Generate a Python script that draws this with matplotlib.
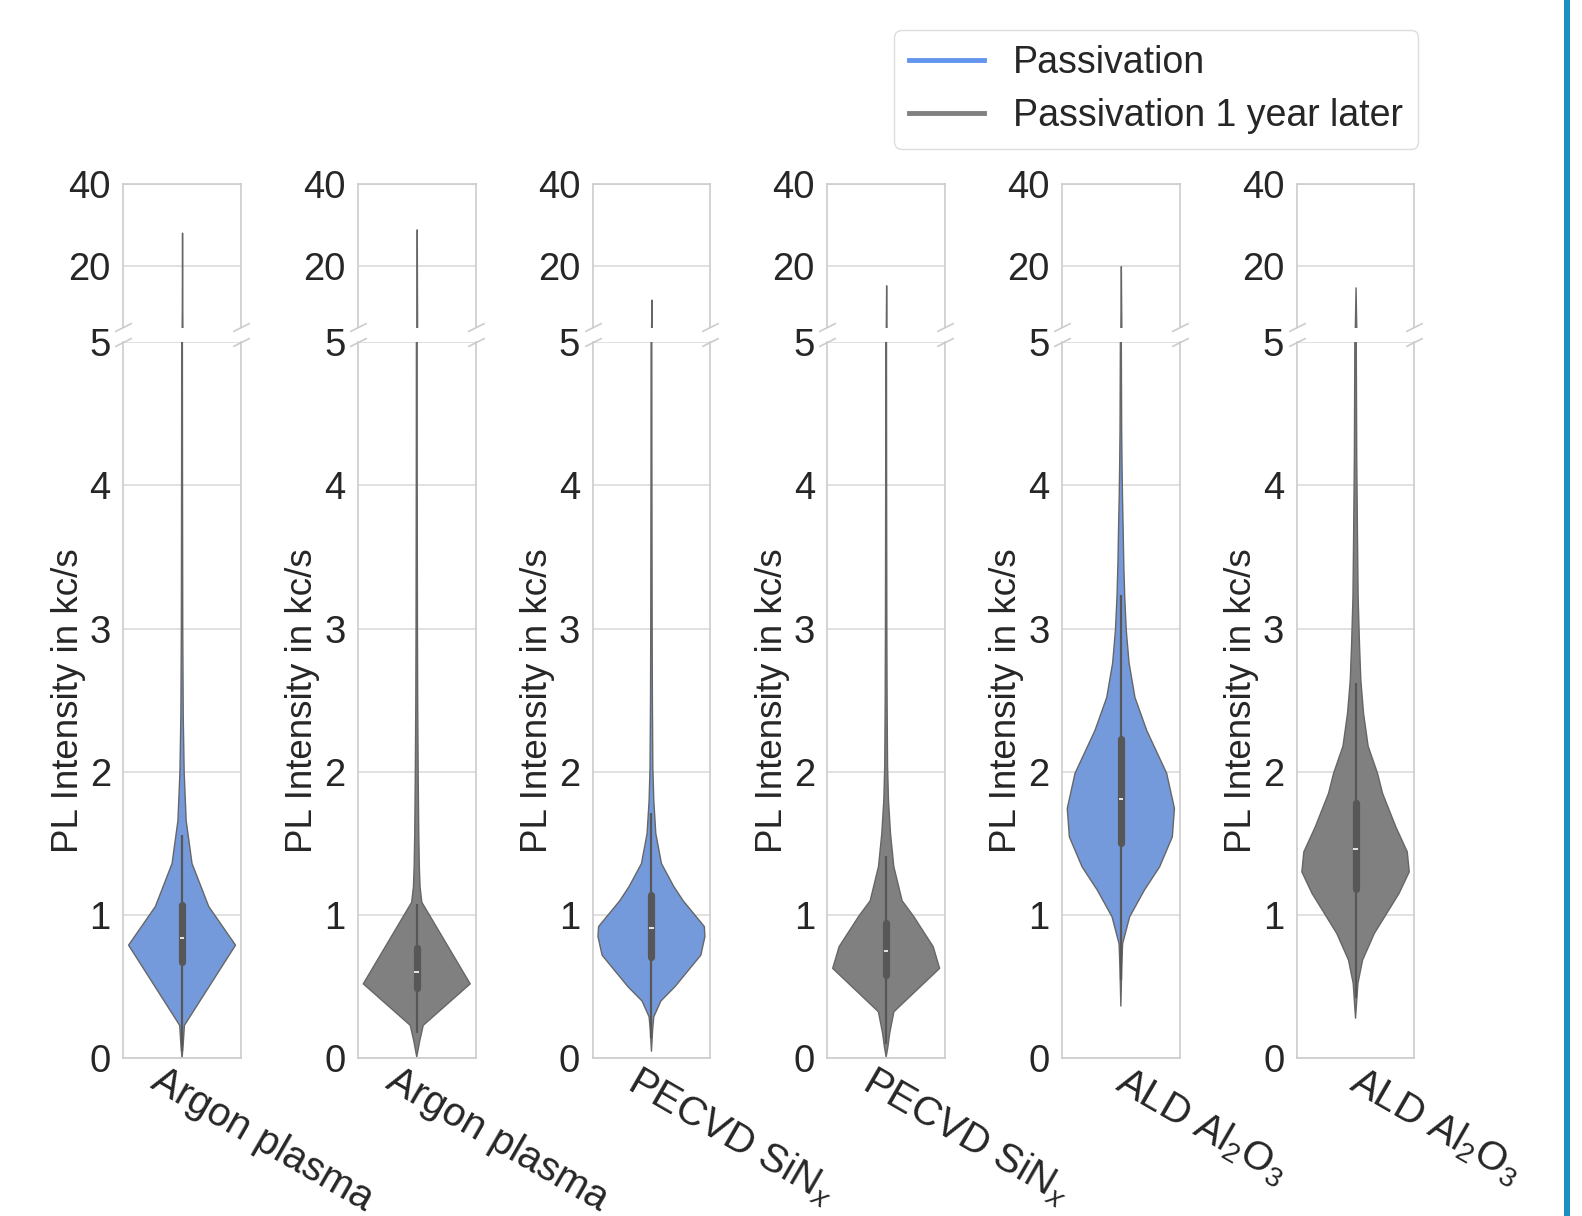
import matplotlib
matplotlib.use("Agg")
import numpy as np
import matplotlib.pyplot as plt
from matplotlib.lines import Line2D
from matplotlib.patches import Rectangle
from matplotlib.transforms import ScaledTranslation

plt.rcParams.update({
    "font.family": ["Liberation Sans", "DejaVu Sans"],
    "mathtext.fontset": "custom",
    "mathtext.rm": "Liberation Sans",
    "mathtext.it": "Liberation Sans:italic",
    "mathtext.bf": "Liberation Sans:bold",
    "text.color": "#262626",
    "axes.labelcolor": "#262626",
    "xtick.color": "#262626",
    "ytick.color": "#262626",
})

# ---- data -------------------------------------------------------------
categories = ["Argon plasma", "Argon plasma",
              "PECVD SiN$_x$", "PECVD SiN$_x$",
              "ALD Al$_2$O$_3$", "ALD Al$_2$O$_3$"]
groups = ["Passivation", "Passivation 1 year later",
          "Passivation", "Passivation 1 year later",
          "Passivation", "Passivation 1 year later"]
legend_labels = ["Passivation", "Passivation 1 year later"]

# violin outlines: PL intensity levels (kc/s) and half-widths of the density
levels_argon = [0.0, 0.10, 0.23, 0.79, 1.06, 1.36, 1.66, 2.0, 2.4, 3.0, 4.0, 5.0, 10.0, 28.1]
width_argon = [0.0, 0.01, 0.02, 0.455, 0.227, 0.085, 0.035, 0.018, 0.01, 0.006, 0.004, 0.003, 0.002, 0.0]

levels_argon_1y = [0.01, 0.12, 0.23, 0.52, 1.09, 1.20, 1.34, 1.57, 2.0, 2.5, 3.0, 4.0, 5.0, 28.9]
width_argon_1y = [0.0, 0.025, 0.055, 0.455, 0.043, 0.028, 0.022, 0.017, 0.012, 0.008, 0.006, 0.004, 0.003, 0.0]

levels_sinx = [0.05, 0.20, 0.29, 0.40, 0.50, 0.60, 0.72, 0.85, 0.92, 1.0, 1.10, 1.20, 1.36, 1.57, 1.80, 2.03, 2.5, 3.0, 4.0, 5.0, 11.7]
width_sinx = [0.0, 0.01, 0.02, 0.08, 0.20, 0.30, 0.42, 0.455, 0.45, 0.37, 0.27, 0.19, 0.085, 0.037, 0.02, 0.012, 0.008, 0.006, 0.004, 0.003, 0.0]

levels_sinx_1y = [0.01, 0.08, 0.174, 0.325, 0.628, 0.78, 0.99, 1.10, 1.34, 1.57, 1.80, 2.04, 2.5, 3.0, 4.0, 5.0, 15.2]
width_sinx_1y = [0.0, 0.015, 0.03, 0.066, 0.455, 0.40, 0.235, 0.136, 0.065, 0.037, 0.02, 0.012, 0.008, 0.006, 0.004, 0.003, 0.0]

levels_al2o3 = [0.365, 0.64, 0.80, 0.988, 1.174, 1.337, 1.546, 1.745, 1.99, 2.29, 2.52, 2.76, 2.99, 3.22, 3.45, 3.68, 3.92, 4.15, 4.38, 5.0, 19.9]
width_al2o3 = [0.0, 0.008, 0.015, 0.075, 0.20, 0.33, 0.438, 0.456, 0.39, 0.22, 0.12, 0.07, 0.046, 0.033, 0.025, 0.02, 0.014, 0.01, 0.007, 0.004, 0.0]

levels_al2o3_1y = [0.28, 0.523, 0.686, 0.872, 1.151, 1.302, 1.442, 1.616, 1.85, 1.99, 2.18, 2.41, 2.64, 2.88, 3.22, 3.68, 4.2, 5.0, 14.7]
width_al2o3_1y = [0.0, 0.02, 0.06, 0.16, 0.37, 0.457, 0.44, 0.343, 0.23, 0.187, 0.107, 0.068, 0.045, 0.034, 0.022, 0.016, 0.01, 0.006, 0.0]

violin_levels = [levels_argon, levels_argon_1y, levels_sinx, levels_sinx_1y, levels_al2o3, levels_al2o3_1y]
violin_widths = [width_argon, width_argon_1y, width_sinx, width_sinx_1y, width_al2o3, width_al2o3_1y]

# box statistics (kc/s)
whisker_low = [0.05, 0.18, 0.14, 0.10, 0.55, 0.42]
q1 = [0.674, 0.488, 0.71, 0.581, 1.505, 1.179]
median = [0.837, 0.60, 0.907, 0.751, 1.814, 1.465]
q3 = [1.07, 0.768, 1.14, 0.946, 2.233, 1.784]
whisker_high = [1.56, 1.08, 1.71, 1.41, 3.233, 2.62]

top_ticks = [20, 40]
bottom_ticks = [0, 1, 2, 3, 4, 5]

# ---- style --------------------------------------------------------------
line_colors = {"Passivation": "#6495ED", "Passivation 1 year later": "#808080"}
fill_colors = {"Passivation": "#759adc", "Passivation 1 year later": "#808080"}
edge_col = "#666666"
box_col = "#575757"
grid_col = "#d9d9d9"
spine_col = "#cccccc"
FS_TICK = 27.5
FS_LABEL = 26.5
FS_CAT = 29
FS_LEG = 27

W, H = 1582, 1216
fig = plt.figure(figsize=(W / 100, H / 100), dpi=100)

panel_w = 117.5
for i in range(len(categories)):
    left = (123.3 + i * 234.7) / W
    ax_top = fig.add_axes([left, 1 - 327 / H, panel_w / W, 143 / H])
    ax_bot = fig.add_axes([left, 1 - 1058.3 / H, panel_w / W, 716 / H])

    lv = np.asarray(violin_levels[i])
    hw = np.asarray(violin_widths[i])
    grp = groups[i]
    for ax in (ax_top, ax_bot):
        ax.fill_betweenx(lv, -hw, hw, facecolor=fill_colors[grp],
                         edgecolor=edge_col, linewidth=1.0, zorder=2)
        ax.set_xlim(-0.5, 0.5)
        ax.set_xticks([])
        ax.grid(axis="y", color=grid_col, linewidth=1.1, zorder=0)
        ax.set_axisbelow(True)
        for s in ax.spines.values():
            s.set_color(spine_col)
            s.set_linewidth(1.2)
        ax.tick_params(axis="y", length=0, pad=9, labelsize=FS_TICK)

    # inner box
    ax_bot.plot([0, 0], [whisker_low[i], whisker_high[i]], color=box_col,
                lw=1.6, zorder=3, solid_capstyle="butt")
    ax_bot.plot([0, 0], [q1[i], q3[i]], color=box_col, lw=5.2,
                zorder=4, solid_capstyle="round")
    ax_bot.plot([-0.02, 0.02], [median[i], median[i]], color="white",
                lw=1.2, zorder=5, solid_capstyle="butt")

    ax_top.set_ylim(5, 40)
    ax_top.set_yticks(top_ticks)
    ax_top.spines["bottom"].set_visible(False)
    ax_bot.set_ylim(0, 5)
    ax_bot.set_yticks(bottom_ticks)
    ax_bot.spines["top"].set_visible(False)

    # break marks
    kw = dict(marker=[(-1, -0.5), (1, 0.5)], markersize=12, linestyle="none",
              color=spine_col, mec=spine_col, mew=1.2, clip_on=False)
    ax_top.plot([0, 1], [0, 0], transform=ax_top.transAxes, **kw)
    ax_bot.plot([0, 1], [1, 1], transform=ax_bot.transAxes, **kw)

    ax_bot.set_ylabel("PL Intensity in kc/s", fontsize=FS_LABEL)
    ax_bot.yaxis.set_label_coords(-0.32, 0.5)

    # rotated category label; its bounding box is centred on the anchor
    off = ScaledTranslation(0.804, -0.03, fig.dpi_scale_trans)
    ax_bot.text(0, 0, categories[i], transform=ax_bot.get_xaxis_transform() + off,
                rotation=-30, ha="center", va="top", fontsize=FS_CAT)

handles = [Line2D([], [], color=line_colors[g], lw=3.5) for g in legend_labels]
leg = fig.legend(handles, legend_labels, loc="upper right",
                 bbox_to_anchor=(1418 / W, 1 - 30 / H), fontsize=FS_LEG,
                 handlelength=2.0, handletextpad=0.77, labelspacing=0.45,
                 borderpad=0.4, borderaxespad=0, frameon=True, fancybox=True,
                 framealpha=1)
leg.get_frame().set_edgecolor("#dddddd")
leg.get_frame().set_linewidth(1.0)

fig.add_artist(Rectangle((1564 / W, 0), 5.5 / W, 1, transform=fig.transFigure,
                         facecolor="#1c8ec0", edgecolor="none"))

fig.savefig("out.png", dpi=100)
